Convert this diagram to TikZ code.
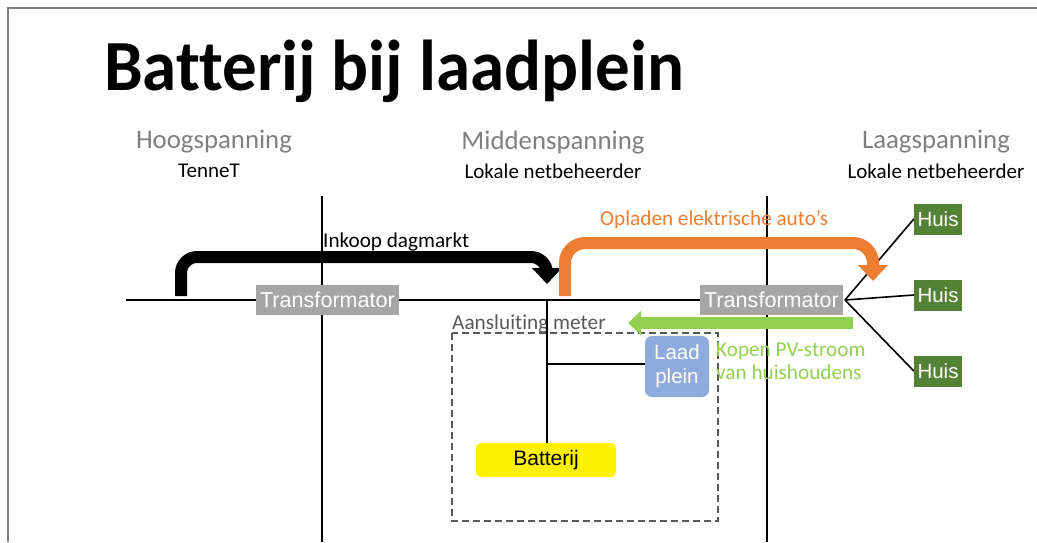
\documentclass[tikz,border=0pt]{standalone}
\usepackage{fontspec}
\setmainfont{Carlito}[Ligatures=NoCommon]
\newfontfamily\arial{Liberation Sans}
\definecolor{orng}{HTML}{ED7D31}
\definecolor{lgreen}{HTML}{92D050}
\definecolor{dgreen}{HTML}{548235}
\definecolor{lblue}{HTML}{8FAADC}
\definecolor{boxgray}{HTML}{A5A5A5}
\definecolor{txtgray}{HTML}{7F7F7F}
\definecolor{darkgray2}{HTML}{595959}
\tikzset{
  wire/.style={line width=1.6pt, black},
  trafo/.style={fill=boxgray, text=white, font=\arial\fontsize{21.6}{23}\selectfont, minimum width=143pt, minimum height=30pt, inner sep=0pt},
  huis/.style={fill=dgreen, text=white, font=\arial\fontsize{20.5}{22}\selectfont, minimum width=48pt, minimum height=31pt, inner sep=0pt},
  level/.style={text=txtgray, font=\fontsize{26.8}{28}\selectfont, inner sep=0pt},
  owner/.style={text=black, font=\fontsize{21}{22}\selectfont, inner sep=0pt},
  lbl/.style={font=\fontsize{21.2}{23}\selectfont, inner sep=0pt},
}
\begin{document}
\begin{tikzpicture}[x=1pt,y=-1pt]
\useasboundingbox (0,0) rectangle (1037,542);
% frame
\draw[line width=1.5pt, txtgray] (8,542) -- (8,8) -- (1037,8);
% title
\node[anchor=base west, inner sep=0pt, font=\bfseries\fontsize{60}{60}\selectfont, xscale=1.15, yscale=1.2] (title) at (104,90) {Batterij bij laadplein};
% level labels
\node[level] (hs) at (214,142) {Hoogspanning};
\node[owner] (hso) at (209,171) {TenneT};
\node[level] (ms) at (553,142) {Middenspanning};
\node[owner] (mso) at (553,171) {Lokale netbeheerder};
\node[level] (ls) at (936,142) {Laagspanning};
\node[owner] (lso) at (936,171) {Lokale netbeheerder};
% boundary lines
\coordinate (b1t) at (322,196); \coordinate (b1b) at (322,542);
\coordinate (b2t) at (767,196); \coordinate (b2b) at (767,542);
\draw[wire] (b1t) -- (b1b);
\draw[wire] (b2t) -- (b2b);
% main line
\coordinate (mainL) at (126,300);
\coordinate (tap) at (547,300);
\node[trafo] (t1) at (327.5,300) {Transformator};
\node[trafo] (t2) at (771.5,300) {Transformator};
\draw[wire] (mainL) -- (t1.west);
\draw[wire] (t1.east) -- (t2.west);
% houses
\node[huis] (h1) at (938,219) {Huis};
\node[huis] (h2) at (938,295) {Huis};
\node[huis] (h3) at (938,371) {Huis};
\coordinate (hub) at (845,300);
\draw[wire] (hub) -- (h1.west);
\draw[wire] (hub) -- (h2.west);
\draw[wire] (hub) -- (h3.west);
% meter box
\node[anchor=base west, inner sep=0pt, text=darkgray2, font=\fontsize{21.3}{23}\selectfont] (meterlbl) at (452,329) {Aansluiting meter};
\draw[line width=1.1pt, darkgray2, dash pattern=on 7pt off 4pt] (452,333) rectangle (718,521);
\node[fill=lblue, rounded corners=7pt, text=white, font=\arial\fontsize{20.5}{24}\selectfont, align=center, minimum width=64pt, minimum height=61pt, inner sep=0pt] (laad) at (677,366.5) {Laad\\plein};
\node[fill=yellow, rounded corners=5pt, text=black, font=\arial\fontsize{21}{22}\selectfont, minimum width=140pt, minimum height=34pt, inner sep=0pt] (bat) at (546,460) {Batterij};
\coordinate (tapL) at (547,364);
\draw[wire] (tap) -- (bat.north -| tap);
\draw[wire] (tapL) -- (laad.west |- tapL);
% black arrow
\coordinate (ka) at (181,296);
\coordinate (kb) at (547,270);
\draw[line width=12pt, black, rounded corners=16pt] (ka) -- (181,257) -- (547,257) -- (kb);
\fill[black] (532,268) -- (562,268) -- (547,284) -- cycle;
\node[lbl, anchor=base west] (ink) at (323,247) {Inkoop dagmarkt};
% orange arrow
\coordinate (oa) at (565,296);
\coordinate (ob) at (873,267);
\draw[line width=12pt, orng, rounded corners=20pt] (oa) -- (565,243) -- (873,243) -- (ob);
\fill[orng] (858,265) -- (888,265) -- (873,281) -- cycle;
\node[lbl, anchor=base west, text=orng] (opl) at (600,225) {Opladen elektrische auto’s};
% green arrow
\coordinate (ga) at (853,323);
\coordinate (gb) at (640,323);
\draw[line width=12pt, lgreen] (ga) -- (gb);
\fill[lgreen] (641,311) -- (641,335) -- (628,323) -- cycle;
\node[lbl, anchor=base west, text=lgreen] (kop) at (716,356) {Kopen PV-stroom};
\node[lbl, anchor=base west, text=lgreen] (kop2) at (716,379) {van huishoudens};
\end{tikzpicture}
\end{document}
